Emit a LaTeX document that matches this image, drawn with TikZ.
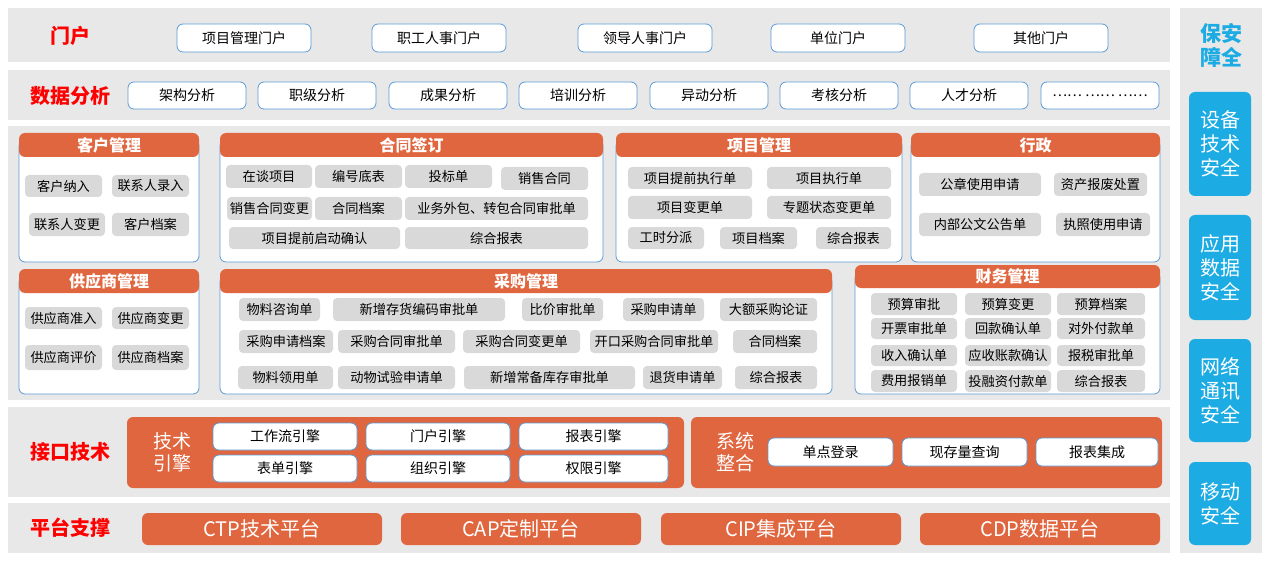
\documentclass[tikz,border=0pt]{standalone}
\usepackage{fontspec}
\newfontfamily\cjk{Noto Sans CJK SC}
\usetikzlibrary{positioning}
\definecolor{bandgray}{RGB}{232,232,232}
\definecolor{itemgray}{RGB}{217,217,217}
\definecolor{headorange}{RGB}{224,102,63}
\definecolor{lineblue}{RGB}{91,155,213}
\definecolor{safecyan}{RGB}{28,171,226}
% box by pixel corners: name, x1, y1, x2, y2, style, text
\newcommand{\blk}[7]{%
  \node[#6, minimum width={(#4-#2)*0.5pt}, minimum height={(#5-#3)*0.5pt}]
    (#1) at ({(#2+#4)/2},{(#3+#5)/2}) {#7};}

\begin{document}
\begin{tikzpicture}[
        x=0.5pt, y=-0.5pt,
        band/.style={fill=bandgray, draw=none, inner sep=0pt},
        rowlabel/.style={text=red, font=\cjk\fontsize{10}{12}\selectfont\bfseries},
        portal/.style={draw=lineblue, fill=white, rounded corners=3pt, inner sep=0pt, font=\cjk\fontsize{7}{8}\selectfont},
        body/.style={draw=lineblue, fill=white, rounded corners=3pt, inner sep=0pt},
        head/.style={fill=headorange, rounded corners=3pt, inner sep=0pt, text=white, font=\cjk\fontsize{8}{9}\selectfont\bfseries},
        item/.style={fill=itemgray, rounded corners=2pt, inner sep=0pt, font=\cjk\fontsize{6.6}{7}\selectfont},
        orange/.style={fill=headorange, rounded corners=3pt, inner sep=0pt, text=white, font=\cjk\fontsize{10}{12}\selectfont},
        safe/.style={fill=safecyan, rounded corners=3pt, inner sep=0pt, text=white, align=center, font=\cjk\fontsize{10}{12}\selectfont}
    ]
        \useasboundingbox (0,0) rectangle (1267,561);

        % Bands
        \blk{bportal}{8}{8}{1170}{62}{band}{}
        \blk{banalysis}{8}{70}{1170}{120}{band}{}
        \blk{bbusiness}{8}{126}{1170}{400}{band}{}
        \blk{binterface}{8}{407}{1170}{497}{band}{}
        \blk{bplatform}{8}{503}{1170}{553}{band}{}
        \blk{bsafety}{1180}{8}{1262}{553}{band}{}

        % Portal
        \node[rowlabel] (lportal) at (70,36) {门户};
        \blk{p1}{177}{24}{311}{52}{portal}{项目管理门户}
        \blk{p2}{372}{24}{506}{52}{portal}{职工人事门户}
        \blk{p3}{578}{24}{712}{52}{portal}{领导人事门户}
        \blk{p4}{771}{24}{905}{52}{portal}{单位门户}
        \blk{p5}{974}{24}{1108}{52}{portal}{其他门户}

        % Data analysis
        \node[rowlabel] (lanalysis) at (70,96) {数据分析};
        \blk{a1}{128}{82}{246}{109}{portal}{架构分析}
        \blk{a2}{258}{82}{376}{109}{portal}{职级分析}
        \blk{a3}{389}{82}{507}{109}{portal}{成果分析}
        \blk{a4}{519}{82}{637}{109}{portal}{培训分析}
        \blk{a5}{650}{82}{768}{109}{portal}{异动分析}
        \blk{a6}{780}{82}{898}{109}{portal}{考核分析}
        \blk{a7}{910}{82}{1028}{109}{portal}{人才分析}
        \blk{a8}{1041}{82}{1159}{109}{portal}{…… …… ……}

        % Customer
        \blk{cusb}{19}{140}{199}{262}{body}{}
        \blk{cush}{19}{133}{199}{157}{head}{客户管理}
        \blk{cus1}{25}{175}{102}{197}{item}{客户纳入}
        \blk{cus2}{112}{175}{189}{197}{item}{联系人录入}
        \blk{cus3}{29}{213}{105}{236}{item}{联系人变更}
        \blk{cus4}{112}{213}{189}{236}{item}{客户档案}

        % Contract
        \blk{conb}{220}{140}{603}{262}{body}{}
        \blk{conh}{220}{133}{603}{157}{head}{合同签订}
        \blk{con1}{226}{165}{312}{188}{item}{在谈项目}
        \blk{con2}{315}{165}{402}{188}{item}{编号底表}
        \blk{con3}{405}{165}{492}{188}{item}{投标单}
        \blk{con4}{501}{167}{588}{190}{item}{销售合同}
        \blk{con5}{227}{197}{312}{220}{item}{销售合同变更}
        \blk{con6}{315}{197}{402}{220}{item}{合同档案}
        \blk{con7}{405}{197}{588}{220}{item}{业务外包、转包合同审批单}
        \blk{con8}{229}{227}{400}{249}{item}{项目提前启动确认}
        \blk{con9}{405}{227}{588}{249}{item}{综合报表}

        % Project
        \blk{prjb}{616}{140}{902}{262}{body}{}
        \blk{prjh}{616}{133}{902}{157}{head}{项目管理}
        \blk{prj1}{628}{167}{752}{189}{item}{项目提前执行单}
        \blk{prj2}{767}{167}{891}{189}{item}{项目执行单}
        \blk{prj3}{628}{196}{752}{219}{item}{项目变更单}
        \blk{prj4}{767}{196}{891}{219}{item}{专题状态变更单}
        \blk{prj5}{628}{227}{704}{249}{item}{工时分派}
        \blk{prj6}{720}{227}{797}{249}{item}{项目档案}
        \blk{prj7}{816}{227}{891}{249}{item}{综合报表}

        % Administration
        \blk{admb}{911}{140}{1160}{262}{body}{}
        \blk{admh}{911}{133}{1160}{157}{head}{行政}
        \blk{adm1}{919}{173}{1041}{196}{item}{公章使用申请}
        \blk{adm2}{1054}{173}{1147}{196}{item}{资产报废处置}
        \blk{adm3}{919}{213}{1041}{236}{item}{内部公文公告单}
        \blk{adm4}{1056}{213}{1150}{236}{item}{执照使用申请}

        % Supplier
        \blk{supb}{19}{276}{199}{394}{body}{}
        \blk{suph}{19}{269}{199}{293}{head}{供应商管理}
        \blk{sup1}{25}{307}{102}{329}{item}{供应商准入}
        \blk{sup2}{112}{307}{189}{329}{item}{供应商变更}
        \blk{sup3}{25}{345}{102}{370}{item}{供应商评价}
        \blk{sup4}{112}{345}{189}{370}{item}{供应商档案}

        % Purchase
        \blk{purb}{220}{276}{832}{394}{body}{}
        \blk{purh}{220}{269}{832}{293}{head}{采购管理}
        \blk{pur1}{239}{298}{320}{321}{item}{物料咨询单}
        \blk{pur2}{333}{298}{505}{321}{item}{新增存货编码审批单}
        \blk{pur3}{522}{298}{603}{321}{item}{比价审批单}
        \blk{pur4}{623}{298}{704}{321}{item}{采购申请单}
        \blk{pur5}{720}{298}{817}{321}{item}{大额采购论证}
        \blk{pur6}{239}{330}{333}{353}{item}{采购申请档案}
        \blk{pur7}{338}{330}{455}{353}{item}{采购合同审批单}
        \blk{pur8}{463}{330}{580}{353}{item}{采购合同变更单}
        \blk{pur9}{590}{330}{718}{353}{item}{开口采购合同审批单}
        \blk{pur10}{733}{330}{817}{353}{item}{合同档案}
        \blk{pur11}{238}{366}{333}{389}{item}{物料领用单}
        \blk{pur12}{338}{366}{455}{389}{item}{动物试验申请单}
        \blk{pur13}{464}{366}{635}{389}{item}{新增常备库存审批单}
        \blk{pur14}{643}{366}{722}{389}{item}{退货申请单}
        \blk{pur15}{735}{366}{817}{389}{item}{综合报表}

        % Finance
        \blk{finb}{855}{272}{1160}{394}{body}{}
        \blk{finh}{855}{265}{1160}{288}{head}{财务管理}
        \blk{fin1}{871}{293}{957}{315}{item}{预算审批}
        \blk{fin2}{965}{293}{1051}{315}{item}{预算变更}
        \blk{fin3}{1057}{293}{1145}{315}{item}{预算档案}
        \blk{fin4}{871}{318}{957}{339}{item}{开票审批单}
        \blk{fin5}{965}{318}{1051}{339}{item}{回款确认单}
        \blk{fin6}{1057}{318}{1145}{339}{item}{对外付款单}
        \blk{fin7}{871}{345}{957}{366}{item}{收入确认单}
        \blk{fin8}{965}{345}{1051}{366}{item}{应收账款确认}
        \blk{fin9}{1057}{345}{1145}{366}{item}{报税审批单}
        \blk{fin10}{871}{370}{957}{392}{item}{费用报销单}
        \blk{fin11}{965}{370}{1051}{392}{item}{投融资付款单}
        \blk{fin12}{1057}{370}{1145}{392}{item}{综合报表}

        % Interface
        \node[rowlabel] (linterface) at (70,452) {接口技术};
        \blk{eng}{127}{417}{684}{488}{orange}{}
        \node[text=white, align=center, font=\cjk\fontsize{9.5}{11}\selectfont] (lengine) at (172,452) {技术\\引擎};
        \blk{e1}{213}{423}{357}{450}{portal}{工作流引擎}
        \blk{e2}{366}{423}{510}{450}{portal}{门户引擎}
        \blk{e3}{519}{423}{668}{450}{portal}{报表引擎}
        \blk{e4}{213}{455}{357}{482}{portal}{表单引擎}
        \blk{e5}{366}{455}{510}{482}{portal}{组织引擎}
        \blk{e6}{519}{455}{668}{482}{portal}{权限引擎}
        \blk{sys}{691}{417}{1162}{488}{orange}{}
        \node[text=white, align=center, font=\cjk\fontsize{9.5}{11}\selectfont] (lsystem) at (735,452) {系统\\整合};
        \blk{s1}{768}{438}{893}{466}{portal}{单点登录}
        \blk{s2}{902}{438}{1027}{466}{portal}{现存量查询}
        \blk{s3}{1036}{438}{1158}{466}{portal}{报表集成}

        % Platform
        \node[rowlabel] (lplatform) at (70,528) {平台支撑};
        \blk{pf1}{142}{513}{382}{545}{orange}{CTP技术平台}
        \blk{pf2}{401}{513}{641}{545}{orange}{CAP定制平台}
        \blk{pf3}{661}{513}{901}{545}{orange}{CIP集成平台}
        \blk{pf4}{920}{513}{1160}{545}{orange}{CDP数据平台}

        % Safety
        \node[text=safecyan, align=center, font=\cjk\fontsize{10.5}{12}\selectfont\bfseries] (lsafety) at (1221,45) {保安\\障全};
        \blk{sf1}{1189}{92}{1251}{196}{safe}{设备\\技术\\安全}
        \blk{sf2}{1189}{215}{1251}{320}{safe}{应用\\数据\\安全}
        \blk{sf3}{1189}{339}{1251}{442}{safe}{网络\\通讯\\安全}
        \blk{sf4}{1189}{462}{1251}{545}{safe}{移动\\安全}
    \end{tikzpicture}
\end{document}
